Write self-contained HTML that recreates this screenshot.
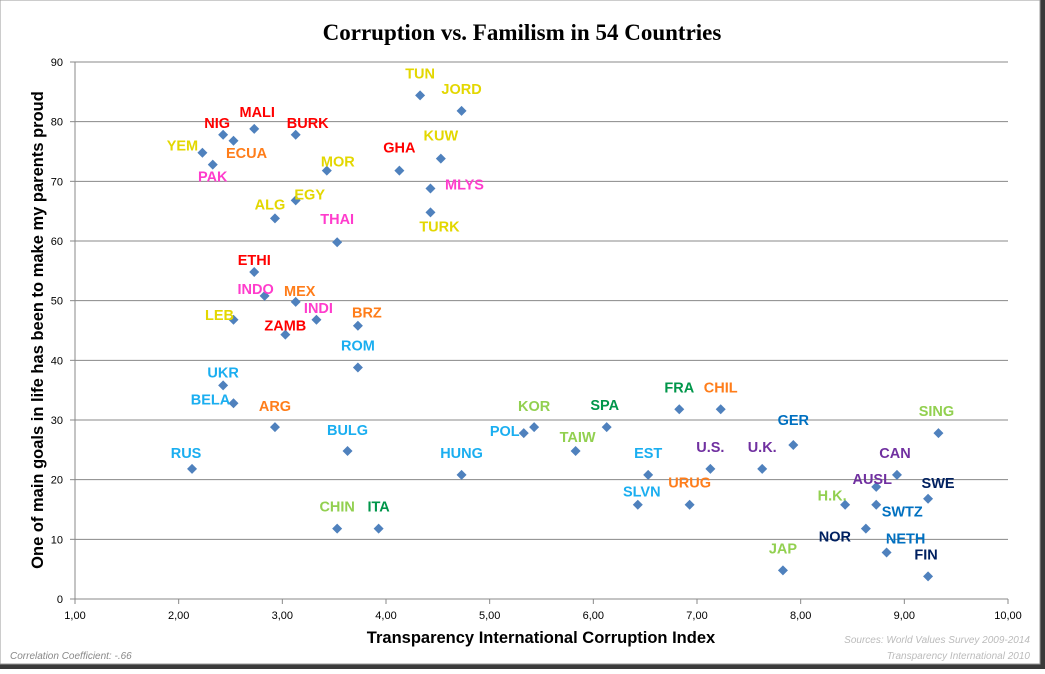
<!DOCTYPE html>
<html><head><meta charset="utf-8"><style>
body{margin:0;background:#fff;width:1045px;height:669px;overflow:hidden}
svg text{font-family:"Liberation Sans",sans-serif}
</style></head><body>
<svg id="chart" width="1045" height="669" viewBox="0 0 1045 669">
<rect x="0" y="0" width="1045" height="669" fill="#3a3a3a"/>
<rect x="0" y="0" width="1040" height="664" fill="#fff" stroke="#9a9a9a"/>
<text x="522" y="40" text-anchor="middle" style="font-family:'Liberation Serif',serif;font-weight:bold;font-size:23px">Corruption vs. Familism in 54 Countries</text>
<g id="grid"></g><g id="axes"></g><g id="points"></g><g id="labels"></g>
<text x="541" y="643" text-anchor="middle" font-weight="bold" font-size="16.5">Transparency International Corruption Index</text>
<text transform="translate(43,330) rotate(-90)" text-anchor="middle" font-weight="bold" font-size="16.5">One of main goals in life has been to make my parents proud</text>
<text x="10" y="659" font-style="italic" font-size="10" fill="#888">Correlation Coefficient: -.66</text>
<text x="1030" y="643" text-anchor="end" font-style="italic" font-size="10" fill="#bbb">Sources: World Values Survey 2009-2014</text>
<text x="1030" y="659" text-anchor="end" font-style="italic" font-size="10" fill="#bbb">Transparency International 2010</text>
</svg>
<script>
const countries=["TUN","JORD","MALI","NIG","BURK","ECUA","YEM","PAK","KUW","GHA","MOR","MLYS","EGY","ALG","TURK","THAI","ETHI","INDO","MEX","INDI","LEB","BRZ","ZAMB","ROM","UKR","BELA","ARG","BULG","RUS","HUNG","POL","KOR","TAIW","SPA","FRA","CHIL","EST","SLVN","URUG","U.S.","U.K.","GER","SING","CAN","AUSL","SWE","H.K.","SWTZ","NOR","NETH","FIN","JAP","CHIN","ITA"];
const corruption=[4.3,4.7,2.7,2.4,3.1,2.5,2.2,2.3,4.5,4.1,3.4,4.4,3.1,2.9,4.4,3.5,2.7,2.8,3.1,3.3,2.5,3.7,3.0,3.7,2.4,2.5,2.9,3.6,2.1,4.7,5.3,5.4,5.8,6.1,6.8,7.2,6.5,6.4,6.9,7.1,7.6,7.9,9.3,8.9,8.7,9.2,8.4,8.7,8.6,8.8,9.2,7.8,3.5,3.9];
const proud=[84.4,81.8,78.8,77.8,77.8,76.8,74.8,72.8,73.8,71.8,71.8,68.8,66.8,63.8,64.8,59.8,54.8,50.8,49.8,46.8,46.8,45.8,44.3,38.8,35.8,32.8,28.8,24.8,21.8,20.8,27.8,28.8,24.8,28.8,31.8,31.8,20.8,15.8,15.8,21.8,21.8,25.8,27.8,20.8,18.8,16.8,15.8,15.8,11.8,7.8,3.8,4.8,11.8,11.8];
const colorGroup=["Y","Y","R","R","R","O","Y","M","Y","R","Y","M","Y","Y","Y","M","R","M","O","M","Y","O","R","LB","LB","LB","O","LB","LB","LB","LB","LG","LG","DG","DG","O","LB","LB","O","P","P","B","LG","P","P","N","LG","B","N","B","N","LG","LG","DG"];
const xTicks=["1,00","2,00","3,00","4,00","5,00","6,00","7,00","8,00","9,00","10,00"];
const yTicks=[0,10,20,30,40,50,60,70,80,90];
const labelDx=[0,0,3,-6,12,13,-20,0,0,0,11,34,14,-5,9,0,0,-9,4,2,-14,9,0,0,0,-23,0,0,-6,0,-19,0,2,-2,0,0,0,4,0,0,0,0,-2,-2,-4,10,-13,26,-31,19,-2,0,0,0];
const labelDy=[-22,-22,-17,-12,-12,12,-7,12,-23,-23,-9,-4,-6,-14,14,-23,-12,-7,-11,-12,-5,-13,-9,-22,-13,-4,-21,-21,-16,-22,-2,-21,-14,-22,-22,-22,-22,-13,-22,-22,-22,-25,-22,-22,-8,-16,-9,7,8,-14,-22,-22,-22,-22];
const palette={Y:"#e3d700",R:"#ff0000",O:"#ff7d1a",M:"#ff3ccc",LB:"#1aaef0",LG:"#92d050",DG:"#00964a",P:"#7030a0",B:"#0070c0",N:"#002060"};
const X0=75,X1=1008,Y0=599,Y1=62;
const xs=v=>X0+(v-1)/9*(X1-X0), ys=v=>Y0-v/90*(Y0-Y1);
const NS="http://www.w3.org/2000/svg";
function mk(tag,attrs,parent){const e=document.createElementNS(NS,tag);for(const k in attrs)e.setAttribute(k,attrs[k]);document.getElementById(parent).appendChild(e);return e;}
yTicks.forEach(t=>{
 if(t>0){const g=mk("line",{x1:X0,x2:X1,y1:ys(t),y2:ys(t),stroke:"#888","stroke-width":1},"grid");
 
 }
 const l=mk("text",{x:X0-12,y:ys(t)+4,"text-anchor":"end","font-size":11},"axes");l.textContent=t;
 
 
 const tk=mk("line",{x1:X0-5,x2:X0,y1:ys(t),y2:ys(t),stroke:"#888"},"axes");
 
 
});
const ax=mk("line",{x1:X0,x2:X0,y1:Y1,y2:Y0,stroke:"#888"},"axes");


const bx=mk("line",{x1:X0,x2:X1,y1:Y0,y2:Y0,stroke:"#888"},"axes");


xTicks.forEach((t,i)=>{
 const x=xs(i+1);
 const tk=mk("line",{x1:x,x2:x,y1:Y0,y2:Y0+5,stroke:"#888"},"axes");
 
 
 const l=mk("text",{x:x,y:Y0+20,"text-anchor":"middle","font-size":11},"axes");l.textContent=t;
 
 
});
countries.forEach((c,i)=>{
 const x=xs(corruption[i])+3,y=ys(proud[i]);
 const p=mk("polygon",{points:`${x},${y-5} ${x+5},${y} ${x},${y+5} ${x-5},${y}`,fill:"#4f81bd"},"points");
 
 
 const t=mk("text",{x:x+labelDx[i],y:y+labelDy[i]+5,"text-anchor":"middle","font-size":14.5,"font-weight":"bold",fill:palette[colorGroup[i]]},"labels");
 t.textContent=c;
 
 
});
</script>
</body></html>
